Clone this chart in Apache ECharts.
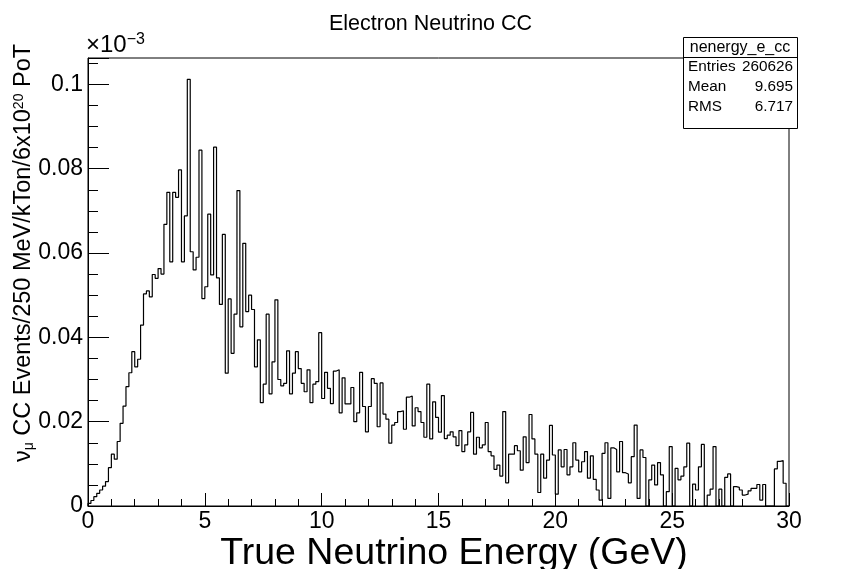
<!DOCTYPE html>
<html>
<head>
<meta charset="utf-8">
<script src="https://cdn.jsdelivr.net/npm/echarts@6/dist/echarts.min.js"></script>
<style>
html,body{margin:0;padding:0;background:#fff;}
#c{width:861px;height:569px;}
</style>
</head>
<body>
<div id="c"></div>
<script>
// Histogram: 240 bins of 0.125 GeV from 0 to 30 GeV (values in units of 1e-3)
const binLow = 0;
const binHigh = 30;
const binValues = [
0.0006,0.0013,0.0022,0.0030,0.0038,0.0047,0.0058,0.0091,0.0123,0.0111,
0.0153,0.0196,0.0237,0.0283,0.0316,0.0366,0.0330,0.0348,0.0429,0.0503,
0.0510,0.0496,0.0549,0.0540,0.0563,0.0550,0.0668,0.0744,0.0579,0.0744,
0.0732,0.0797,0.0579,0.0688,0.1012,0.0603,0.0560,0.0590,0.0844,0.0492,
0.0520,0.0692,0.0548,0.0851,0.0541,0.0478,0.0644,0.0315,0.0491,0.0362,
0.0455,0.0748,0.0425,0.0623,0.0461,0.0500,0.0466,0.0330,0.0394,0.0245,
0.0289,0.0455,0.0266,0.0342,0.0489,0.0300,0.0285,0.0291,0.0368,0.0266,
0.0315,0.0366,0.0326,0.0291,0.0271,0.0323,0.0245,0.0289,0.0295,0.0411,
0.0255,0.0317,0.0279,0.0243,0.0320,0.0323,0.0221,0.0304,0.0242,0.0242,
0.0281,0.0200,0.0221,0.0317,0.0236,0.0176,0.0236,0.0302,0.0291,0.0188,
0.0292,0.0218,0.0206,0.0149,0.0192,0.0198,0.0224,0.0226,0.0182,0.0258,
0.0261,0.0190,0.0233,0.0224,0.0198,0.0163,0.0289,0.0159,0.0247,0.0210,
0.0175,0.0262,0.0160,0.0168,0.0176,0.0164,0.0143,0.0179,0.0129,0.0145,
0.0176,0.0222,0.0123,0.0163,0.0138,0.0145,0.0198,0.0129,0.0119,0.0087,
0.0097,0.0071,0.0224,0.0055,0.0123,0.0123,0.0143,0.0131,0.0085,0.0164,
0.0103,0.0217,0.0159,0.0123,0.0032,0.0123,0.0066,0.0109,0.0191,0.0121,
0.0028,0.0133,0.0093,0.0134,0.0074,0.0093,0.0150,0.0109,0.0081,0.0105,
0.0129,0.0066,0.0119,0.0063,0.0038,0.0014,0.0125,0.0150,0.0018,0.0138,
0.0134,0.0081,0.0153,0.0079,0.0076,0.0055,0.0117,0.0192,0.0018,0.0133,
0.0115,0.0000,0.0062,0.0097,0.0050,0.0103,0.0074,0.0000,0.0034,0.0141,
0.0000,0.0089,0.0062,0.0071,0.0093,0.0149,0.0000,0.0052,0.0038,0.0093,
0.0146,0.0000,0.0026,0.0040,0.0141,0.0000,0.0040,0.0000,0.0068,0.0076,
0.0000,0.0046,0.0044,0.0038,0.0026,0.0028,0.0036,0.0042,0.0042,0.0051,
0.0014,0.0051,0.0000,0.0000,0.0000,0.0088,0.0106,0.0108,0.0054,0.0000
];
const yTickValues = [0, 0.02, 0.04, 0.06, 0.08, 0.1];
const yTickLabels = ['0', '0.02', '0.04', '0.06', '0.08', '0.1'];
const statsTitle = 'nenergy_e_cc';
const statsNames = ['Entries', 'Mean', 'RMS'];
const statsValues = ['260626', '9.695', '6.717'];
const chartTitle = 'Electron Neutrino CC';
const xTitle = 'True Neutrino Energy (GeV)';

const FONT = '"Liberation Sans", Arial, Helvetica, sans-serif';
const nb = binValues.length;
const bw = (binHigh - binLow) / nb;
const pts = [[binLow, 0]];
for (let i = 0; i < nb; i++) pts.push([binLow + i * bw, binValues[i]]);
pts.push([binHigh, binValues[nb - 1]]);
pts.push([binHigh, 0]);

const yMax = 0.10625;
const chart = echarts.init(document.getElementById('c'), null, {renderer: 'canvas'});
chart.setOption({
  animation: false,
  backgroundColor: '#fff',
  title: {
    text: chartTitle, left: 'center', top: 8,
    textStyle: {fontFamily: FONT, fontSize: 21.5, fontWeight: 'normal', color: '#000'}
  },
  grid: {left: 88, right: 72, top: 58, bottom: 63, show: true, borderColor: '#000', borderWidth: 1, backgroundColor: 'rgba(0,0,0,0)'},
  xAxis: {
    type: 'value', min: 0, max: 30, interval: 5,
    axisLine: {onZero: false, lineStyle: {color: '#000', width: 1}},
    axisTick: {inside: true, length: 13, lineStyle: {color: '#000'}},
    minorTick: {show: true, splitNumber: 5, length: 7, lineStyle: {color: '#000'}},
    splitLine: {show: false},
    axisLabel: {color: '#000', fontSize: 23, fontFamily: FONT, margin: 4}
  },
  yAxis: {
    type: 'value', min: 0, max: yMax, interval: 0.02,
    axisLine: {show: true, onZero: false, lineStyle: {color: '#000', width: 1}},
    axisTick: {inside: true, length: 21, lineStyle: {color: '#000'}},
    minorTick: {show: true, splitNumber: 4, length: 10, lineStyle: {color: '#000'}},
    splitLine: {show: false},
    axisLabel: {
      color: '#000', fontSize: 23, fontFamily: FONT, margin: 5, showMaxLabel: false,
      formatter: function (v) {
        for (let k = 0; k < yTickValues.length; k++) {
          if (Math.abs(v - yTickValues[k]) < 1e-9) return yTickLabels[k];
        }
        return '';
      }
    }
  },
  series: [{
    type: 'line', data: pts, symbol: 'none', step: 'end',
    lineStyle: {color: '#000', width: 1.2}, z: 3
  }],
  graphic: [
    {
      type: 'text', left: 86, top: 32, z: 10,
      style: {
        text: '×10{sup|−3}', fontFamily: FONT, fontSize: 24, fill: '#000',
        rich: {sup: {fontSize: 16, fontFamily: FONT, verticalAlign: 'top', padding: [0, 0, 10, 0]}}
      }
    },
    {
      type: 'text', z: 10, x: 454, y: 554,
      style: {text: xTitle, fontFamily: FONT, fontSize: 37.5, fill: '#000', align: 'center', verticalAlign: 'middle'}
    },
    {
      type: 'text', z: 10, x: 24, y: 253, rotation: Math.PI / 2,
      style: {
        text: 'ν{sub|μ} CC Events/250 MeV/kTon/6x10{sup|20} PoT',
        fontFamily: FONT, fontSize: 23.5, fill: '#000', align: 'center', verticalAlign: 'middle',
        rich: {
          sub: {fontSize: 14, fontFamily: FONT, verticalAlign: 'bottom', padding: [9, 0, 0, 0]},
          sup: {fontSize: 14, fontFamily: FONT, verticalAlign: 'top', padding: [0, 0, 9, 0]}
        }
      }
    },
    {
      type: 'group', z: 20,
      children: [
        {type: 'rect', shape: {x: 683.5, y: 37.5, width: 114, height: 91}, style: {fill: '#fff', stroke: '#000', lineWidth: 1}},
        {type: 'line', shape: {x1: 683.5, y1: 57.5, x2: 797.5, y2: 57.5}, style: {stroke: '#000', lineWidth: 1}},
        {type: 'text', x: 740, y: 47.5, style: {text: statsTitle, fontFamily: FONT, fontSize: 16, fill: '#000', align: 'center', verticalAlign: 'middle'}},
        {type: 'text', x: 688, y: 67, style: {text: statsNames[0], fontFamily: FONT, fontSize: 15.3, fill: '#000', align: 'left', verticalAlign: 'middle'}},
        {type: 'text', x: 793, y: 67, style: {text: statsValues[0], fontFamily: FONT, fontSize: 15.3, fill: '#000', align: 'right', verticalAlign: 'middle'}},
        {type: 'text', x: 688, y: 87, style: {text: statsNames[1], fontFamily: FONT, fontSize: 15.3, fill: '#000', align: 'left', verticalAlign: 'middle'}},
        {type: 'text', x: 793, y: 87, style: {text: statsValues[1], fontFamily: FONT, fontSize: 15.3, fill: '#000', align: 'right', verticalAlign: 'middle'}},
        {type: 'text', x: 688, y: 107, style: {text: statsNames[2], fontFamily: FONT, fontSize: 15.3, fill: '#000', align: 'left', verticalAlign: 'middle'}},
        {type: 'text', x: 793, y: 107, style: {text: statsValues[2], fontFamily: FONT, fontSize: 15.3, fill: '#000', align: 'right', verticalAlign: 'middle'}}
      ]
    }
  ]
});
</script>
</body>
</html>
